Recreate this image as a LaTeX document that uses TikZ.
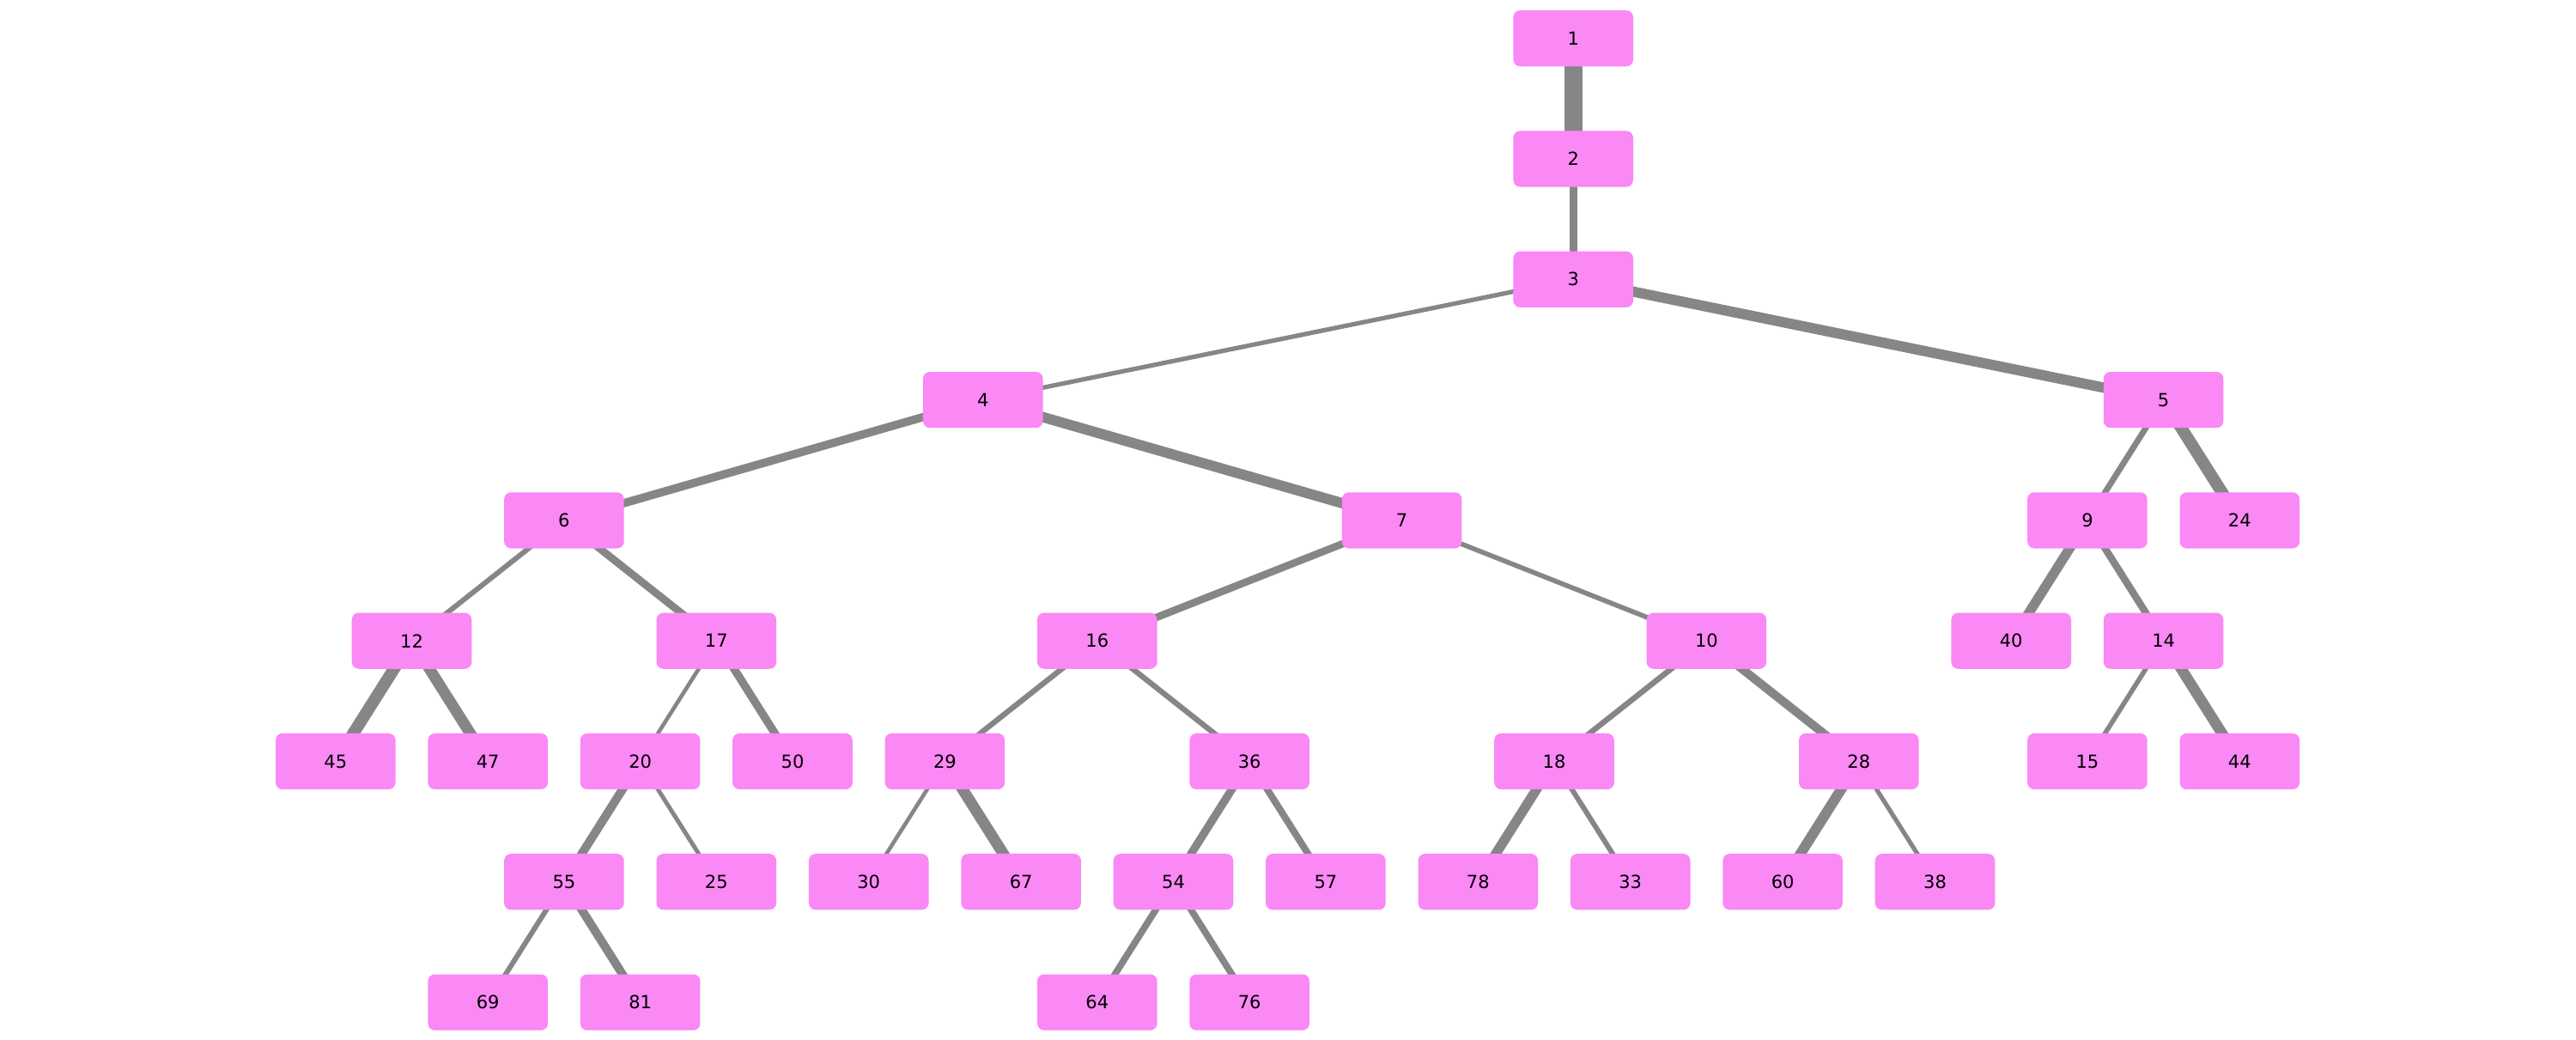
\documentclass[tikz,border=0pt]{standalone}
\usepackage{fontspec}
\setmainfont{DejaVu Sans}
\usepackage{tikz}
\definecolor{boxpink}{RGB}{250,136,245}
\definecolor{edgegray}{RGB}{134,134,134}
\pgfdeclarelayer{bg}
\pgfsetlayers{bg,main}
\tikzset{
  box/.style={fill=boxpink,rounded corners=4pt,minimum width=69.8pt,minimum height=32.6pt,inner sep=0pt,font=\fontsize{10.5}{12}\selectfont},
  edge/.style={edgegray,line cap=round}
}

\begin{document}
\begin{tikzpicture}[x=44.35pt,y=70.15pt]
\useasboundingbox (-4.406,0.3186) rectangle (29.416,-8.306);
% top of tree
\node[box] (n1) at (16.25,0) {1};
\node[box] (n2) at (16.25,-1) {2};
\node[box] (n3) at (16.25,-2) {3};
\node[box] (n4) at (8.5,-3) {4};
\node[box] (n5) at (24,-3) {5};
% left part
\node[box] (n6) at (3,-4) {6};
\node[box] (n12) at (1,-5) {12};
\node[box] (n17) at (5,-5) {17};
\node[box] (n45) at (0,-6) {45};
\node[box] (n47) at (2,-6) {47};
\node[box] (n20) at (4,-6) {20};
\node[box] (n50) at (6,-6) {50};
\node[box] (n55) at (3,-7) {55};
\node[box] (n25) at (5,-7) {25};
\node[box] (n69) at (2,-8) {69};
\node[box] (n81) at (4,-8) {81};
% middle part
\node[box] (n7) at (14,-4) {7};
\node[box] (n16) at (10,-5) {16};
\node[box] (n10) at (18,-5) {10};
\node[box] (n29) at (8,-6) {29};
\node[box] (n36) at (12,-6) {36};
\node[box] (n18) at (16,-6) {18};
\node[box] (n28) at (20,-6) {28};
\node[box] (n30) at (7,-7) {30};
\node[box] (n67) at (9,-7) {67};
\node[box] (n54) at (11,-7) {54};
\node[box] (n57) at (13,-7) {57};
\node[box] (n78) at (15,-7) {78};
\node[box] (n33) at (17,-7) {33};
\node[box] (n60) at (19,-7) {60};
\node[box] (n38) at (21,-7) {38};
\node[box] (n64) at (10,-8) {64};
\node[box] (n76) at (12,-8) {76};
% right part
\node[box] (n9) at (23,-4) {9};
\node[box] (n24) at (25,-4) {24};
\node[box] (n40) at (22,-5) {40};
\node[box] (n14) at (24,-5) {14};
\node[box] (n15) at (23,-6) {15};
\node[box] (n44) at (25,-6) {44};
% edges, behind the boxes
\begin{pgfonlayer}{bg}
\draw[edge,line width=10.5pt] (n1.center) -- (n2.center);
\draw[edge,line width=4.5pt] (n2.center) -- (n3.center);
\draw[edge,line width=2.6pt] (n3.center) -- (n4.center);
\draw[edge,line width=6pt] (n3.center) -- (n5.center);
\draw[edge,line width=4.8pt] (n4.center) -- (n6.center);
\draw[edge,line width=6pt] (n4.center) -- (n7.center);
\draw[edge,line width=3pt] (n6.center) -- (n12.center);
\draw[edge,line width=4.4pt] (n6.center) -- (n17.center);
\draw[edge,line width=7pt] (n12.center) -- (n45.center);
\draw[edge,line width=6.5pt] (n12.center) -- (n47.center);
\draw[edge,line width=2.3pt] (n17.center) -- (n20.center);
\draw[edge,line width=4.7pt] (n17.center) -- (n50.center);
\draw[edge,line width=5pt] (n20.center) -- (n55.center);
\draw[edge,line width=2.5pt] (n20.center) -- (n25.center);
\draw[edge,line width=3pt] (n55.center) -- (n69.center);
\draw[edge,line width=5pt] (n55.center) -- (n81.center);
\draw[edge,line width=4.3pt] (n7.center) -- (n16.center);
\draw[edge,line width=2.8pt] (n7.center) -- (n10.center);
\draw[edge,line width=3.2pt] (n16.center) -- (n29.center);
\draw[edge,line width=3.2pt] (n16.center) -- (n36.center);
\draw[edge,line width=2.3pt] (n29.center) -- (n30.center);
\draw[edge,line width=6.5pt] (n29.center) -- (n67.center);
\draw[edge,line width=4.7pt] (n36.center) -- (n54.center);
\draw[edge,line width=4pt] (n36.center) -- (n57.center);
\draw[edge,line width=3.9pt] (n54.center) -- (n64.center);
\draw[edge,line width=3.9pt] (n54.center) -- (n76.center);
\draw[edge,line width=3.3pt] (n10.center) -- (n18.center);
\draw[edge,line width=5pt] (n10.center) -- (n28.center);
\draw[edge,line width=5.7pt] (n18.center) -- (n78.center);
\draw[edge,line width=3pt] (n18.center) -- (n33.center);
\draw[edge,line width=6pt] (n28.center) -- (n60.center);
\draw[edge,line width=2.6pt] (n28.center) -- (n38.center);
\draw[edge,line width=3.5pt] (n5.center) -- (n9.center);
\draw[edge,line width=7pt] (n5.center) -- (n24.center);
\draw[edge,line width=5.7pt] (n9.center) -- (n40.center);
\draw[edge,line width=4.2pt] (n9.center) -- (n14.center);
\draw[edge,line width=2.8pt] (n14.center) -- (n15.center);
\draw[edge,line width=6.3pt] (n14.center) -- (n44.center);
\end{pgfonlayer}
\end{tikzpicture}
\end{document}
